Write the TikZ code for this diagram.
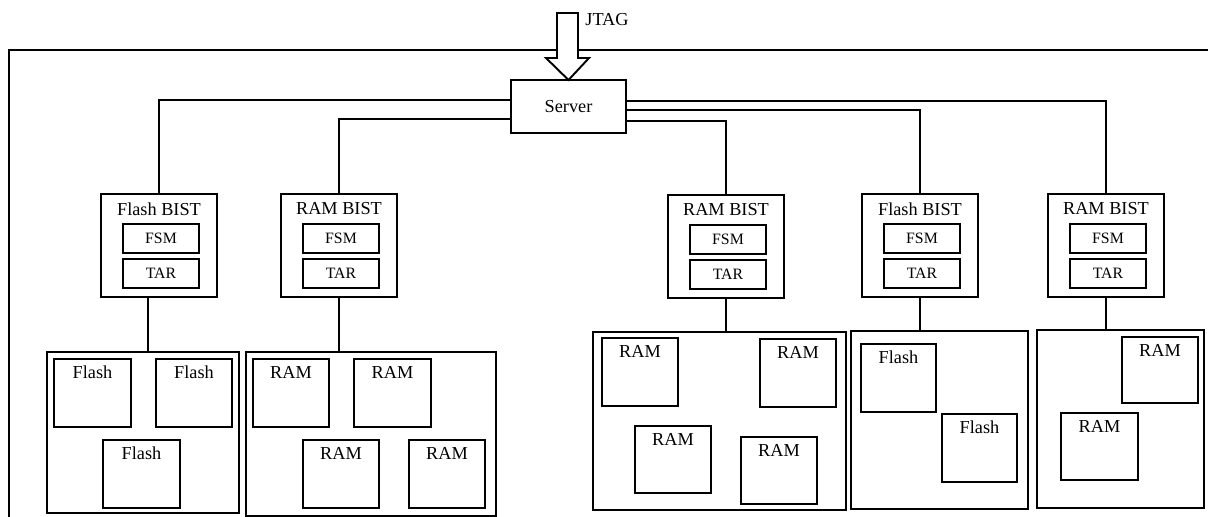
\documentclass[tikz,border=0pt]{standalone}
\usepackage{fontspec}
\setmainfont{Liberation Serif}
\usetikzlibrary{calc}
\tikzset{
  chipframe/.style={line width=1.1pt},
  srvbox/.style={draw,line width=1.1pt,font=\fontsize{10.4}{12}\selectfont},
  bistbox/.style={draw,line width=1.1pt},
  subbox/.style={draw,line width=1.1pt,font=\fontsize{9}{11}\selectfont},
  groupbox/.style={draw,line width=1pt},
  membox/.style={draw,line width=1.1pt},
  wire/.style={line width=0.6pt},
  jtagarrow/.style={draw,fill=white,line width=1.1pt},
  bisttext/.style={inner sep=0pt,font=\fontsize{10.4}{12}\selectfont},
  memtext/.style={inner sep=0pt,font=\fontsize{10.4}{12}\selectfont},
  jtagtext/.style={inner sep=0pt,font=\fontsize{10.4}{12}\selectfont}
}
% box node from two corners: [style]{name}{x1}{y1}{x2}{y2}{text}
\newcommand{\boxnode}[7][]{\node[#1,inner sep=0pt,outer sep=0pt,minimum width={((#5)-(#3))*0.02cm},minimum height={((#6)-(#4))*0.02cm}] (#2) at ({((#3)+(#5))/2},{((#4)+(#6))/2}) {#7};}
% BIST block: name, left, top, title
\newcommand{\bist}[4]{%
  \boxnode[bistbox]{#1}{#2}{#3}{#2+116}{#3+103}{}
  \node[bisttext] (#1-t) at ($(#1.north)+(0,15)$) {#4};
  \boxnode[subbox]{#1-f}{#2+22}{#3+30}{#2+98}{#3+59}{FSM}
  \boxnode[subbox]{#1-r}{#2+22}{#3+65}{#2+98}{#3+94}{TAR}}
% memory: name, x1, y1, x2, y2, label
\newcommand{\mem}[6]{%
  \boxnode[membox]{#1}{#2}{#3}{#4}{#5}{}
  \node[memtext] (#1-t) at ($(#1.north)+(0,13)$) {#6};}

\begin{document}
\begin{tikzpicture}[x=0.02cm,y=-0.02cm]
\useasboundingbox (0,0) rectangle (1208,517);
% chip outline
\draw[chipframe] (1208,50) -- (9,50) -- (9,517);
% server with JTAG input
\boxnode[srvbox]{server}{511}{80}{626}{133}{Server}
\draw[jtagarrow] (557,13) -- (578,13) -- (578,58) -- (589,58) -- (server.north) -- (546,58) -- (557,58) -- cycle;
\node[jtagtext] (jtag) at (607,20) {JTAG};
% BIST blocks
\bist{b1}{101}{194}{Flash BIST}
\bist{b2}{281}{194}{RAM BIST}
\bist{b3}{668}{195}{RAM BIST}
\bist{b4}{862}{194}{Flash BIST}
\bist{b5}{1048}{194}{RAM BIST}
% server to BIST wires
\draw[wire] ($(server.west)+(0,-6.5)$) -| (b1.north);
\draw[wire] ($(server.west)+(0,12.5)$) -| (b2.north);
\draw[wire] ($(server.east)+(0,14.5)$) -| (b3.north);
\draw[wire] ($(server.east)+(0,3.5)$) -| (b4.north);
\draw[wire] ($(server.east)+(0,-5.5)$) -| (b5.north);
% memory groups
\boxnode[groupbox]{g1}{47}{352}{239}{513}{}
\boxnode[groupbox]{g2}{246}{352}{496}{516}{}
\boxnode[groupbox]{g3}{593}{332}{846}{510}{}
\boxnode[groupbox]{g4}{851}{331}{1028}{509}{}
\boxnode[groupbox]{g5}{1037}{330}{1204}{508}{}
% BIST to memory group
\coordinate (b1-o) at ($(b1.south)+(-11,0)$);
\draw[wire] (b1-o) -- (b1-o |- g1.north);
\foreach \i in {2,...,5}
  \draw[wire] (b\i.south) -- (b\i.south |- g\i.north);
% memories
\mem{m11}{54}{359}{131}{427}{Flash}
\mem{m12}{156}{359}{232}{427}{Flash}
\mem{m13}{103}{440}{180}{508}{Flash}
\mem{m21}{253}{359}{329}{427}{RAM}
\mem{m22}{354}{359}{431}{427}{RAM}
\mem{m23}{303}{440}{379}{508}{RAM}
\mem{m24}{409}{440}{485}{508}{RAM}
\mem{m31}{602}{338}{678}{406}{RAM}
\mem{m32}{760}{339}{836}{407}{RAM}
\mem{m33}{635}{426}{711}{493}{RAM}
\mem{m34}{741}{437}{817}{504}{RAM}
\mem{m41}{861}{344}{936}{412}{Flash}
\mem{m42}{942}{414}{1017}{482}{Flash}
\mem{m51}{1122}{337}{1198}{403}{RAM}
\mem{m52}{1061}{413}{1138}{480}{RAM}
\end{tikzpicture}
\end{document}
